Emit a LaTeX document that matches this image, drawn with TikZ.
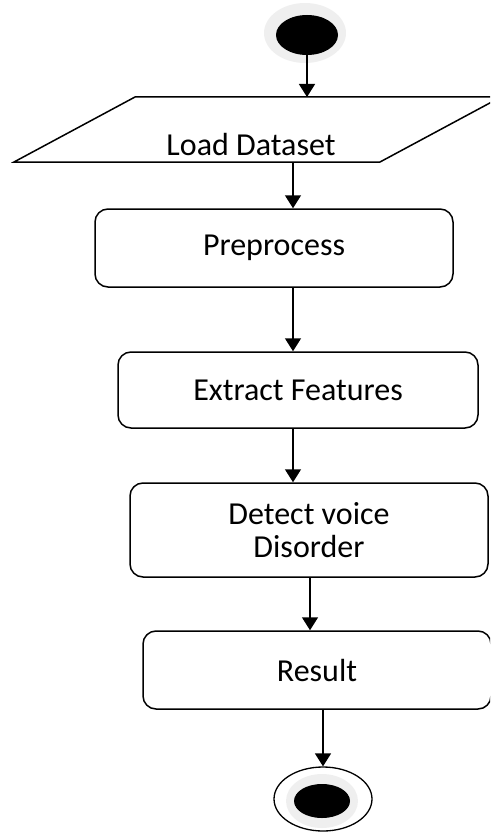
\documentclass[tikz,border=0pt]{standalone}
\usepackage{fontspec}
\setmainfont{Carlito}
\usetikzlibrary{arrows.meta,shapes.geometric}
\definecolor{halo}{HTML}{EFEFEF}
\begin{document}
\begin{tikzpicture}[x=1pt,y=-1pt,
  stepbox/.style={draw, line width=1.5pt, rounded corners=13pt, inner sep=0pt,
    minimum height=#1, font=\fontsize{32}{33}\selectfont, align=center},
  stepbox/.default=78pt,
  arr/.style={line width=1.5pt, -{Triangle[width=16pt,length=13pt]}},
  txt/.style={font=\fontsize{32}{33}\selectfont, inner sep=0pt}
]
\useasboundingbox (0,0) rectangle (490,832);
\clip (0,0) rectangle (490,832);

% start
\fill[halo] (305,33) ellipse [x radius=41, y radius=30];
\node[ellipse, fill=black, minimum width=62pt, minimum height=40pt, inner sep=0pt] (start) at (307,35) {};

% parallelogram (load dataset)
\coordinate (pTL) at (135,97);
\coordinate (pTR) at (501,97);
\coordinate (pBR) at (380,162);
\coordinate (pBL) at (14,162);
\draw[line width=1.5pt] (pTL) -- (pTR) -- (pBR) -- (pBL) -- cycle;
\node[txt] (load) at (251,145) {Load Dataset};

% boxes
\node[stepbox, minimum width=358pt] (pre) at (274,248) {Preprocess};
\node[stepbox=76pt, minimum width=360pt] (ext) at (298,390) {Extract Features};
\node[stepbox=94pt, minimum width=358pt] (det) at (309,530) {Detect voice\\Disorder};
\node[stepbox, minimum width=348pt] (res) at (317,670) {Result};

% end
\node[ellipse, draw, line width=1.3pt, minimum width=98pt, minimum height=64pt, inner sep=0pt] (end) at (323,799) {};
\fill[halo] (322,801) ellipse [x radius=36, y radius=27];
\fill[black] (322,801) ellipse [x radius=28, y radius=17];

% connectors
\coordinate (c2) at (293,0);
\coordinate (c3) at (293,0);
\coordinate (c4) at (293,0);
\coordinate (c5) at (310,0);
\coordinate (c6) at (323,0);
\draw[arr] (start.south) -- (start.south |- pTL);
\draw[arr] (pBL -| c2) -- (pre.north -| c2);
\draw[arr] (pre.south -| c3) -- (ext.north -| c3);
\draw[arr] (ext.south -| c4) -- (det.north -| c4);
\draw[arr] (det.south -| c5) -- (res.north -| c5);
\draw[arr] (res.south -| c6) -- (end.north -| c6);
\end{tikzpicture}
\end{document}
